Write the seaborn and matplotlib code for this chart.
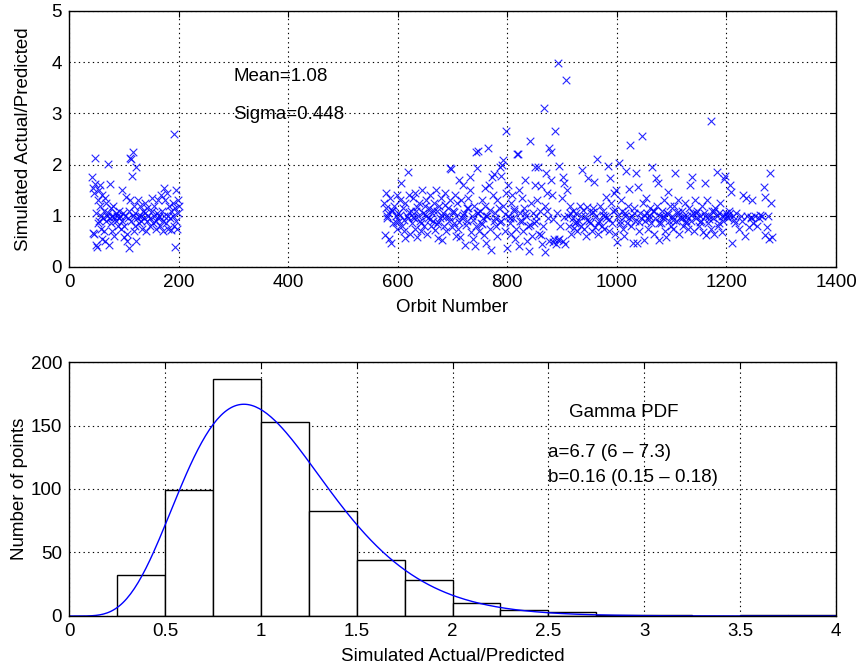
import math
import numpy as np
import pandas as pd
import matplotlib
matplotlib.use("Agg")
import matplotlib.pyplot as plt
import seaborn as sns

# ---------------- data ----------------
orbits_early = [42, 43, 44, 45, 46, 47, 48, 49, 50, 51, 52, 53, 54, 55,
                56, 57, 58, 59, 60, 61, 62, 63, 64, 65, 66, 67, 68, 69,
                71, 72, 73, 74, 75, 76, 77, 78, 79, 80, 82, 83, 85, 86, 88, 89,
                91, 92, 93, 94, 96, 97, 98, 100, 101, 102, 104, 105, 106, 108, 109,
                110, 111, 112, 113, 114, 115, 116, 117, 118, 119, 120, 121, 122, 123, 124,
                126, 127, 128, 130, 131, 132, 134, 135, 136, 138, 139, 140, 142, 143, 145, 147, 148,
                151, 152, 153, 155, 156, 158, 159, 160, 162, 163, 165, 166, 168, 169, 171, 172, 173, 174,
                176, 177, 179, 180, 181, 183, 184, 186, 187, 189, 190, 191, 192, 193, 194, 195, 196, 197, 198, 199, 200]
ratios_early = [1.76, 0.66, 1.55, 0.65, 1.45, 2.13, 1.62, 0.43, 1.05, 0.40, 0.85, 1.30, 1.50, 0.90,
                1.60, 1.20, 0.75, 1.00, 0.55, 1.40, 0.95, 1.10, 0.70, 1.35, 0.50, 1.25, 0.90, 1.00,
                2.01, 1.05, 0.43, 1.63, 0.95, 0.85, 1.15, 1.00, 0.70, 1.20, 0.98, 0.60, 1.05, 0.90, 1.00, 0.80,
                1.10, 0.95, 1.00, 0.75, 1.50, 0.90, 1.05, 0.59, 0.80, 1.00, 1.37, 0.50, 0.65, 0.95, 1.10,
                0.37, 2.13, 1.30, 2.10, 0.90, 1.78, 1.00, 2.25, 0.70, 1.20, 0.80, 1.05, 1.95, 0.50, 0.95,
                1.30, 1.00, 0.85, 1.20, 0.90, 1.00, 0.75, 1.10, 0.95, 1.25, 1.05, 0.70, 0.90, 1.15, 1.00, 0.80, 0.95,
                1.35, 1.10, 0.85, 1.00, 1.20, 0.90, 0.75, 1.05, 1.30, 0.95, 1.00, 0.80, 1.40, 1.10, 0.70, 0.90, 1.54, 1.00,
                1.30, 0.85, 1.45, 1.00, 0.75, 1.20, 0.95, 1.10, 0.72, 1.00, 1.25, 0.80, 2.60, 0.39, 1.15, 1.50, 0.90, 0.75, 1.30, 1.05, 1.20]

orbits_late = [575, 576, 578, 579, 581, 583, 584, 586, 588, 590, 592, 594, 596, 598, 599,
               601, 602, 604, 606, 607, 609, 611, 613, 614, 616, 618, 619, 621, 623, 624,
               626, 627, 629, 631, 632, 634, 636, 637, 639, 641, 643, 644, 646, 648, 649,
               651, 652, 654, 656, 657, 659, 661, 663, 664, 666, 668, 669, 671, 673, 674,
               676, 677, 679, 681, 682, 684, 686, 688, 689, 691, 693, 695, 696, 697, 699,
               701, 702, 704, 706, 707, 709, 710, 712, 714, 716, 718, 720, 721, 723, 725,
               726, 727, 729, 731, 732, 734, 736, 738, 739, 741, 742, 743, 744, 746, 747, 749,
               751, 752, 754, 756, 757, 759, 760, 762, 763, 765, 767, 768, 770, 772, 773, 775,
               776, 777, 779, 781, 782, 784, 786, 788, 789, 790, 792, 793, 795, 797, 798, 800,
               801, 802, 804, 806, 807, 809, 811, 812, 814, 816, 818, 820, 821, 822, 824,
               826, 827, 829, 831, 832, 834, 836, 838, 840, 841, 843, 845, 847, 848, 850,
               851, 852, 854, 856, 857, 859, 861, 863, 865, 867, 868, 869, 871, 873, 874,
               876, 877, 879, 880, 882, 884, 886, 887, 889, 890, 892, 893, 895, 897, 899,
               901, 902, 904, 905, 907, 909, 911, 913, 915, 917, 919, 920, 922, 924,
               926, 928, 930, 932, 934, 936, 938, 940, 942, 944, 946, 948, 949,
               951, 953, 955, 957, 958, 960, 962, 964, 966, 968, 970, 972, 974,
               976, 978, 980, 981, 983, 985, 987, 989, 991, 993, 995, 997, 999,
               1001, 1002, 1004, 1006, 1008, 1010, 1012, 1013, 1015, 1017, 1019, 1021, 1022, 1024,
               1026, 1028, 1030, 1031, 1033, 1035, 1037, 1038, 1040, 1042, 1044, 1046, 1048, 1050,
               1051, 1053, 1055, 1057, 1059, 1061, 1063, 1064, 1066, 1068, 1070, 1071, 1073, 1075,
               1076, 1078, 1080, 1082, 1084, 1086, 1088, 1090, 1092, 1094, 1095, 1097, 1099,
               1101, 1103, 1105, 1106, 1108, 1110, 1112, 1114, 1116, 1118, 1120, 1122, 1124,
               1126, 1128, 1130, 1132, 1134, 1136, 1137, 1139, 1141, 1143, 1145, 1147, 1149,
               1151, 1153, 1155, 1157, 1159, 1161, 1163, 1165, 1167, 1169, 1171, 1172, 1174,
               1176, 1178, 1180, 1182, 1183, 1185, 1187, 1189, 1191, 1192, 1194, 1196, 1197, 1199,
               1201, 1203, 1205, 1207, 1208, 1210, 1212, 1215, 1218, 1222,
               1228, 1231, 1234, 1236, 1238, 1241, 1244, 1247, 1249,
               1252, 1256, 1260, 1264, 1268, 1270, 1271, 1274, 1276, 1278, 1280, 1281, 1283,
               # second pass through the dense core of the late orbits
               580, 589, 597, 605, 612, 620, 628, 635, 642, 650, 658, 665, 672, 680, 687,
               694, 703, 711, 719, 728, 737, 745, 753, 761, 769, 778, 787, 796, 805, 813,
               823, 833, 842, 853, 862, 872, 883, 894, 903, 914, 925, 935, 945, 956, 965,
               975, 986, 996, 1005, 1014, 1023, 1032, 1041, 1049, 1058, 1067, 1077, 1085, 1093, 1102,
               1111, 1119, 1127, 1135, 1144, 1152, 1160, 1168, 1177, 1186, 1195, 1204, 1213, 1226, 1245, 1262]
ratios_late = [1.25, 0.62, 1.15, 1.45, 0.95, 1.05, 0.55, 1.35, 0.47, 1.10, 0.85, 1.20, 1.00, 0.75, 1.40,
               1.05, 0.90, 1.30, 1.64, 0.80, 1.15, 0.70, 0.57, 1.25, 1.00, 0.95, 1.86, 1.40, 0.65, 1.10,
               0.85, 1.35, 0.95, 1.45, 0.75, 1.10, 0.59, 1.00, 1.25, 0.90, 0.70, 1.50, 1.05, 0.80, 1.20,
               1.00, 1.30, 0.65, 0.95, 1.15, 1.40, 0.80, 1.05, 0.90, 1.25, 0.72, 1.50, 1.10, 0.57, 0.88,
               1.20, 0.95, 1.35, 0.53, 1.05, 0.80, 1.45, 1.00, 0.70, 1.15, 0.90, 1.93, 1.30, 1.91, 0.78,
               1.10, 0.85, 1.40, 0.60, 1.00, 1.25, 0.75, 1.70, 0.59, 1.30, 0.95, 1.60, 1.05, 0.43, 0.82,
               1.15, 0.90, 1.35, 1.50, 1.76, 0.68, 1.00, 0.55, 1.20, 0.41, 0.80, 2.25, 1.93, 1.05, 2.27, 0.70,
               1.10, 0.85, 1.30, 0.95, 0.62, 1.20, 1.55, 0.47, 1.00, 2.32, 1.60, 0.75, 0.33, 1.75, 1.40, 0.90,
               1.82, 1.05, 0.80, 1.30, 0.60, 1.15, 1.95, 0.90, 1.78, 1.99, 2.09, 1.20, 0.70, 1.45, 2.66, 0.37,
               1.60, 1.00, 0.85, 1.25, 0.65, 1.40, 0.95, 1.10, 0.55, 0.75, 2.20, 2.20, 0.41, 1.50, 1.05,
               0.90, 1.35, 0.70, 1.15, 1.70, 1.00, 0.50, 0.80, 0.31, 2.46, 1.25, 0.60, 1.05, 0.85, 1.60,
               1.95, 0.90, 1.30, 1.95, 0.65, 1.10, 1.58, 0.45, 0.80, 3.10, 0.30, 1.20, 1.84, 1.45, 0.95,
               2.32, 0.50, 2.25, 1.70, 1.40, 0.48, 0.55, 2.66, 0.45, 1.05, 0.52, 3.99, 1.97, 0.80, 1.35,
               0.50, 1.75, 1.64, 0.45, 3.65, 1.50, 1.00, 0.80, 1.20, 0.65, 0.95, 1.10, 0.76, 0.85,
               1.05, 0.70, 0.90, 1.20, 0.80, 1.90, 1.12, 0.75, 1.00, 0.60, 1.17, 1.74, 0.90,
               0.85, 1.05, 0.70, 1.15, 1.66, 0.78, 1.00, 2.10, 0.65, 0.90, 1.20, 0.80, 1.10,
               0.75, 1.00, 1.37, 0.95, 1.97, 0.70, 1.74, 1.25, 0.85, 1.10, 1.45, 0.65, 1.50,
               0.49, 1.00, 2.03, 0.90, 1.30, 1.10, 0.75, 0.60, 1.05, 1.88, 0.85, 1.20, 1.52, 2.38,
               0.80, 1.00, 0.47, 1.15, 0.90, 1.83, 0.47, 1.56, 0.70, 1.05, 0.95, 2.56, 1.25, 0.53,
               0.90, 1.35, 1.05, 0.75, 1.00, 1.15, 0.85, 1.95, 1.10, 0.65, 0.95, 1.74, 1.20, 1.64,
               0.53, 1.00, 0.85, 1.10, 0.95, 1.30, 0.70, 0.59, 1.05, 1.47, 0.90, 1.20, 0.80,
               1.00, 0.75, 1.20, 1.84, 0.90, 1.05, 1.30, 0.65, 0.95, 1.10, 0.80, 1.00, 1.25,
               0.85, 1.00, 0.75, 1.15, 1.60, 0.90, 1.76, 1.05, 0.70, 1.30, 0.95, 1.10, 0.80,
               1.00, 0.90, 1.20, 0.68, 1.05, 1.64, 0.62, 1.30, 0.85, 1.00, 0.75, 2.85, 1.10,
               0.95, 0.65, 1.15, 1.00, 1.86, 0.80, 1.05, 1.25, 0.68, 1.00, 0.90, 1.72, 1.78, 1.05,
               1.00, 0.95, 1.10, 1.60, 1.47, 0.47, 1.00, 0.85, 1.05, 0.75,
               0.90, 1.41, 0.60, 1.35, 1.00, 0.78, 0.97, 1.31, 0.85,
               1.00, 0.80, 0.95, 1.00, 1.56, 0.62, 1.37, 0.78, 1.00, 0.54, 1.84, 1.25, 0.58,
               1.00, 1.12, 0.88, 1.02, 0.92, 1.08, 0.97, 1.18, 0.86, 1.04, 0.94, 1.12, 0.83, 1.00, 1.22,
               0.98, 1.08, 0.88, 1.02, 1.16, 0.92, 1.06, 0.84, 1.00, 1.12, 0.95, 0.87, 1.03, 0.96, 1.14,
               0.90, 1.05, 0.82, 1.00, 0.62, 1.10, 0.93, 0.55, 0.98, 1.06, 0.88, 1.00, 0.92, 1.08, 0.86,
               1.02, 0.94, 1.12, 0.84, 1.00, 0.96, 1.06, 0.88, 1.02, 0.94, 1.10, 0.86, 1.00, 1.04, 0.92,
               1.08, 0.96, 0.90, 1.02, 1.06, 0.88, 1.00, 0.94, 1.10, 0.86, 1.00, 1.04, 0.92, 1.00, 0.96, 1.02]

bin_left = [0.25, 0.50, 0.75, 1.00, 1.25, 1.50, 1.75, 2.00, 2.25, 2.50, 2.75, 3.00, 3.25, 3.50, 3.75]
bin_counts = [32, 99, 187, 153, 83, 44, 28, 10, 5, 3, 1, 1, 0, 1, 1]
bin_width = 0.25

gamma_a = 6.7
gamma_b = 0.16

mean_text = "Mean=1.08"
sigma_text = "Sigma=0.448"
gamma_title = "Gamma PDF"
gamma_a_text = "a=6.7 (6 \u2013 7.3)"
gamma_b_text = "b=0.16 (0.15 \u2013 0.18)"

# ---------------- style ----------------
FS = 13.5
sns.set_style("white")
plt.rcParams.update({
    "font.family": ["Liberation Sans", "DejaVu Sans"],
    "font.size": FS,
    "axes.edgecolor": "black",
    "axes.linewidth": 1.0,
    "xtick.direction": "in",
    "ytick.direction": "in",
    "xtick.color": "black",
    "ytick.color": "black",
    "xtick.major.size": 4,
    "ytick.major.size": 4,
    "axes.labelcolor": "black",
    "text.color": "black",
})

fig = plt.figure(figsize=(8.65, 6.70), dpi=100)
ax1 = fig.add_axes([0.0798, 0.6015, 0.8867, 0.3821])
ax2 = fig.add_axes([0.0798, 0.0806, 0.8867, 0.3791])

grid_kw = dict(color="black", linestyle=(0, (1.2, 3.0)), linewidth=0.8)

# ---- top scatter ----
scatter_df = pd.DataFrame({
    "orbit": orbits_early + orbits_late,
    "ratio": ratios_early + ratios_late,
})
sns.scatterplot(data=scatter_df, x="orbit", y="ratio", ax=ax1, marker="x",
                color="#0000ff", s=30, linewidth=0.8, alpha=0.85, legend=False)
ax1.set_xlim(0, 1400)
ax1.set_ylim(0, 5)
ax1.set_xticks(range(0, 1401, 200))
ax1.set_yticks(range(0, 6))
ax1.grid(True, **grid_kw)
ax1.set_axisbelow(True)
ax1.set_xlabel("Orbit Number", labelpad=6)
ax1.set_ylabel("Simulated Actual/Predicted", labelpad=14)
ax1.text(300, 3.72, mean_text, ha="left", va="center")
ax1.text(300, 2.98, sigma_text, ha="left", va="center")
ax1.tick_params(top=True, right=True, labelsize=FS, pad=5)

# ---- bottom histogram ----
hist_df = pd.DataFrame({"center": [b + bin_width / 2 for b in bin_left],
                        "count": bin_counts})
edges = bin_left + [bin_left[-1] + bin_width]
sns.histplot(data=hist_df, x="center", weights="count", bins=edges, ax=ax2,
             color="white", edgecolor="black", linewidth=1.0, alpha=1.0)

n_total = sum(bin_counts)
xs = np.linspace(0.0, 4.0, 400)
log_norm = math.lgamma(gamma_a) + gamma_a * math.log(gamma_b)
ys = []
for xv in xs:
    if xv <= 0:
        ys.append(0.0)
    else:
        ys.append(n_total * bin_width * math.exp((gamma_a - 1) * math.log(xv) - xv / gamma_b - log_norm))
curve_df = pd.DataFrame({"x": xs, "y": ys})
sns.lineplot(data=curve_df, x="x", y="y", ax=ax2, color="#0000ff", linewidth=1.0)

ax2.set_xlim(0, 4)
ax2.set_ylim(0, 200)
ax2.set_xticks([0, 0.5, 1, 1.5, 2, 2.5, 3, 3.5, 4])
ax2.set_xticklabels(["0", "0.5", "1", "1.5", "2", "2.5", "3", "3.5", "4"])
ax2.set_yticks([0, 50, 100, 150, 200])
ax2.grid(True, **grid_kw)
ax2.set_axisbelow(True)
ax2.set_xlabel("Simulated Actual/Predicted", labelpad=6)
ax2.set_ylabel("Number of points", labelpad=2)
ax2.text(2.61, 160, gamma_title, ha="left", va="center")
ax2.text(2.50, 129, gamma_a_text, ha="left", va="center")
ax2.text(2.50, 109, gamma_b_text, ha="left", va="center")
ax2.tick_params(top=True, right=True, labelsize=FS, pad=5)

for ax in (ax1, ax2):
    for sp in ax.spines.values():
        sp.set_visible(True)
        sp.set_color("black")

fig.savefig("out.png", dpi=100, facecolor="white")
